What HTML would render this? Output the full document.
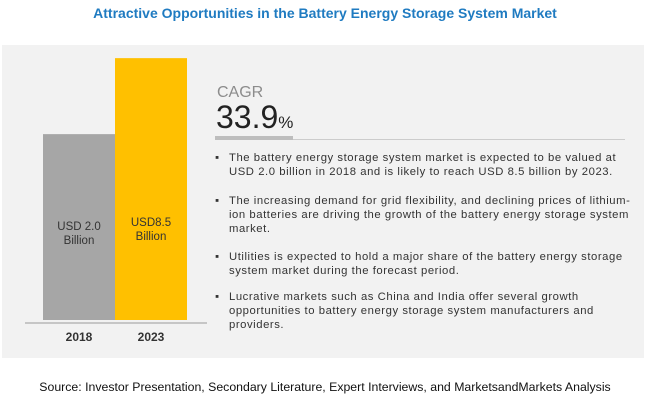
<!DOCTYPE html>
<html><head><meta charset="utf-8"><style>
body{margin:0;width:650px;height:404px;background:#fff;font-family:"Liberation Sans",sans-serif;position:relative;overflow:hidden}
.abs{position:absolute}
#title{left:0;width:650px;top:5px;text-align:center;color:#1f7bc1;font-weight:bold;font-size:14px}
#panel{left:2px;top:45px;width:642px;height:313px;background:#f2f2f2}
.b{left:218px;font-size:11.3px;letter-spacing:0.55px;color:#333;line-height:14px;white-space:nowrap}
.b span{position:absolute;left:-3px}
.b div{padding-left:11px}
#src{left:0;width:650px;top:380px;text-align:center;font-size:12.3px;color:#111}
</style></head><body>
<div id="title" class="abs">Attractive Opportunities in the Battery Energy Storage System Market</div>
<div id="panel" class="abs"></div>
<svg class="abs" style="left:0;top:0" width="650" height="404">
<g id="bars"></g>
<line x1="25" x2="207" y1="323" y2="323" stroke="#999" stroke-width="1"/>
</svg>
<div class="abs" style="left:217px;top:84px;font-size:16px;color:#8c8c8c">CAGR</div>
<div class="abs" style="left:216px;top:99px;font-size:32px;color:#222">33.9<span style="font-size:17px">%</span></div>
<div class="abs" style="left:215px;top:136px;width:78px;height:4px;background:#bdbdbd"></div>
<div class="abs" style="left:293px;top:139px;width:332px;height:1px;background:#ccc"></div>
<div class="abs b" style="top:151px"><span>▪</span><div>The battery energy storage system market is expected to be valued at<br>USD 2.0 billion in 2018 and is likely to reach USD 8.5 billion by 2023.</div></div>
<div class="abs b" style="top:194px"><span>▪</span><div>The increasing demand for grid flexibility, and declining prices of lithium-<br>ion batteries are driving the growth of the battery energy storage system<br>market.</div></div>
<div class="abs b" style="top:250px"><span>▪</span><div>Utilities is expected to hold a major share of the battery energy storage<br>system market during the forecast period.</div></div>
<div class="abs b" style="top:290px"><span>▪</span><div>Lucrative markets such as China and India offer several growth<br>opportunities to battery energy storage system manufacturers and<br>providers.</div></div>
<div id="src" class="abs">Source: Investor Presentation, Secondary Literature, Expert Interviews, and MarketsandMarkets Analysis</div>
<script>
const years=["2018","2023"];
const values=[2.0,8.5];
const labels=[["USD 2.0","Billion"],["USD8.5","Billion"]];
const colors=["#a6a6a6","#ffc000"];
const NS="http://www.w3.org/2000/svg";
const g=document.getElementById('bars');
const bottom=320,v0=-13.9,k=11.69;
function y(v){return bottom-(v-v0)*k;}
function x(i){return 43+i*72;}
values.forEach((v,i)=>{
  const r=document.createElementNS(NS,'rect');
  r.setAttribute('x',x(i));r.setAttribute('width',72);
  r.setAttribute('y',y(v));r.setAttribute('height',bottom-y(v));
  r.setAttribute('fill',colors[i]);
  
  
  g.appendChild(r);
  labels[i].forEach((t,j)=>{
    const tx=document.createElementNS(NS,'text');
    tx.setAttribute('x',x(i)+36);tx.setAttribute('y',(i==0?230:226)+j*14);
    tx.setAttribute('text-anchor','middle');tx.setAttribute('font-size','11.5');
    tx.setAttribute('fill','#333');tx.textContent=t;
    
    
    g.appendChild(tx);
  });
  const yl=document.createElementNS(NS,'text');
  yl.setAttribute('x',x(i)+36);yl.setAttribute('y',341);
  yl.setAttribute('text-anchor','middle');yl.setAttribute('font-size','12');
  yl.setAttribute('font-weight','bold');yl.setAttribute('fill','#333');yl.textContent=years[i];
  
  
  g.appendChild(yl);
});
</script>
</body></html>
